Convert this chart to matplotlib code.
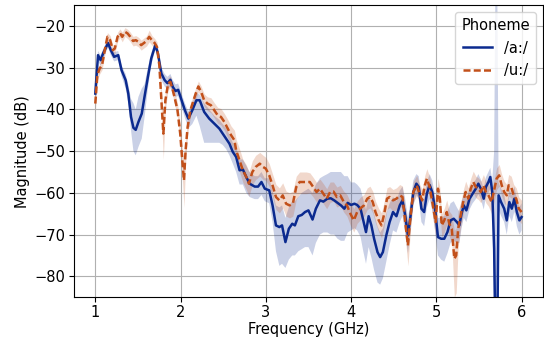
import numpy as np
import matplotlib
matplotlib.use("Agg")
import matplotlib.pyplot as plt

# /a:/ - frequency (GHz), mean magnitude (dB), band low / high
freq_a = [1.000, 1.032, 1.063, 1.091, 1.119, 1.150, 1.182, 1.221, 1.269, 1.308,
          1.356, 1.387, 1.419, 1.447, 1.474, 1.506, 1.545, 1.577, 1.617, 1.656,
          1.704, 1.735, 1.775, 1.814, 1.846, 1.881, 1.909, 1.941, 1.972, 2.012,
          2.051, 2.091, 2.138, 2.186, 2.225, 2.277, 2.336, 2.395, 2.455, 2.494,
          2.534, 2.573, 2.613, 2.652, 2.692, 2.731, 2.771, 2.810, 2.870, 2.909,
          2.949, 2.988, 3.040, 3.079, 3.119, 3.159, 3.190, 3.230, 3.270, 3.310,
          3.341, 3.381, 3.421, 3.460, 3.500, 3.548, 3.587, 3.635, 3.675, 3.722,
          3.762, 3.802, 3.841, 3.881, 3.921, 3.960, 4.000, 4.040, 4.071, 4.111,
          4.143, 4.175, 4.206, 4.238, 4.270, 4.310, 4.341, 4.373, 4.413, 4.452,
          4.492, 4.532, 4.571, 4.603, 4.635, 4.667, 4.698, 4.730, 4.766, 4.794,
          4.825, 4.857, 4.889, 4.921, 4.952, 4.984, 5.019, 5.056, 5.093, 5.130,
          5.167, 5.204, 5.241, 5.270, 5.296, 5.322, 5.352, 5.389, 5.426, 5.463,
          5.493, 5.522, 5.556, 5.581, 5.611, 5.633, 5.656, 5.678, 5.693, 5.715,
          5.730, 5.759, 5.796, 5.826, 5.856, 5.885, 5.915, 5.944, 5.974, 6.000]
mag_a = [-36.2, -27.0, -28.2, -26.6, -25.4, -24.1, -25.8, -27.4, -27.0, -30.6,
         -33.0, -36.2, -41.8, -44.4, -44.9, -43.0, -41.0, -37.0, -32.2, -27.8,
         -24.6, -26.6, -31.4, -33.0, -33.7, -32.9, -34.6, -35.6, -35.3, -37.8,
         -40.2, -42.2, -40.2, -37.8, -37.8, -40.6, -42.2, -43.4, -44.6, -45.8,
         -47.0, -48.2, -50.2, -51.4, -54.6, -54.4, -56.2, -57.8, -58.5, -58.5,
         -57.4, -59.0, -59.4, -63.0, -67.8, -68.2, -67.8, -71.8, -68.6, -67.4,
         -67.8, -65.6, -65.3, -64.6, -64.2, -66.4, -63.8, -61.8, -62.1, -61.4,
         -61.3, -61.8, -62.4, -63.0, -63.8, -62.4, -62.9, -62.6, -62.9, -63.8,
         -66.6, -69.4, -65.6, -67.8, -71.0, -74.2, -75.4, -74.2, -70.2, -67.0,
         -64.6, -65.6, -63.0, -61.8, -65.4, -70.2, -65.4, -59.8, -57.8, -58.6,
         -63.8, -64.6, -60.2, -58.1, -59.8, -63.8, -70.6, -71.0, -71.0, -69.4,
         -66.6, -66.2, -67.0, -67.8, -65.0, -63.0, -64.2, -61.4, -60.2, -59.0,
         -57.8, -59.0, -61.4, -58.6, -57.4, -56.2, -59.8, -73.4, -95.0, -95.0,
         -60.6, -62.2, -63.8, -66.6, -62.2, -63.8, -61.4, -64.6, -66.6, -65.8]
low_a = [-37.5, -28.5, -29.5, -27.8, -26.5, -25.2, -27.0, -28.5, -28.2, -32.0,
         -35.0, -38.5, -45.0, -50.0, -51.0, -49.0, -47.0, -42.0, -35.0, -29.5,
         -25.6, -27.8, -33.0, -34.5, -35.2, -34.5, -36.0, -37.0, -36.8, -39.5,
         -42.0, -44.5, -43.5, -41.5, -44.0, -48.0, -48.0, -48.0, -48.0, -48.5,
         -49.5, -51.0, -53.0, -55.0, -58.0, -58.0, -60.0, -61.0, -61.5, -61.5,
         -60.5, -62.0, -62.5, -67.0, -74.0, -77.5, -77.0, -78.0, -76.0, -75.0,
         -75.0, -74.0, -73.5, -73.0, -73.0, -75.0, -72.0, -70.0, -69.5, -69.5,
         -70.0, -70.0, -71.0, -71.5, -71.5, -69.5, -69.0, -68.5, -69.0, -70.5,
         -74.0, -77.0, -73.0, -75.5, -78.5, -81.5, -82.0, -80.5, -76.5, -72.5,
         -69.0, -69.5, -67.0, -65.5, -69.5, -74.5, -69.0, -63.0, -60.5, -61.5,
         -67.0, -68.0, -63.5, -61.5, -64.0, -69.0, -75.0, -76.0, -76.5, -74.5,
         -72.0, -71.5, -72.0, -72.0, -68.5, -66.0, -67.0, -64.0, -62.5, -61.5,
         -60.3, -61.5, -64.0, -61.0, -60.0, -59.0, -62.5, -90.0, -120.0, -120.0,
         -64.0, -65.5, -67.0, -70.0, -65.5, -67.0, -64.5, -68.0, -70.0, -69.0]
high_a = [-35.0, -26.0, -27.0, -25.6, -24.4, -23.2, -24.8, -26.3, -26.0, -29.5,
          -31.5, -34.0, -37.5, -38.5, -40.0, -37.0, -35.0, -34.0, -30.0, -26.5,
          -23.6, -25.4, -30.0, -31.5, -32.2, -31.5, -33.0, -34.0, -33.8, -36.2,
          -38.5, -40.5, -38.5, -36.0, -36.5, -38.5, -40.0, -41.5, -42.5, -43.5,
          -44.5, -46.0, -48.0, -49.0, -52.0, -52.0, -53.5, -55.0, -56.0, -56.0,
          -55.0, -56.5, -56.5, -59.5, -63.0, -63.5, -63.0, -66.0, -63.5, -62.0,
          -62.0, -61.0, -60.0, -59.5, -59.0, -60.0, -58.0, -56.5, -56.0, -55.5,
          -55.0, -55.0, -55.0, -55.0, -56.0, -56.0, -57.5, -57.5, -58.0, -59.0,
          -61.5, -64.0, -61.0, -62.5, -65.0, -68.0, -69.5, -68.5, -65.0, -62.5,
          -61.0, -62.0, -59.5, -58.5, -61.5, -66.0, -62.0, -57.0, -55.5, -56.0,
          -61.0, -61.5, -57.5, -55.5, -57.0, -60.5, -66.0, -66.0, -65.5, -64.5,
          -62.5, -62.0, -63.5, -64.5, -62.0, -60.5, -61.5, -59.0, -58.0, -56.8,
          -55.5, -56.8, -59.0, -56.3, -55.0, -54.0, -57.0, -50.0, -10.0, -10.0,
          -57.5, -59.0, -60.5, -63.5, -59.0, -60.5, -58.5, -61.5, -63.5, -62.5]

# /u:/
freq_u = [1.000, 1.024, 1.051, 1.079, 1.111, 1.142, 1.174, 1.206, 1.229, 1.261,
          1.289, 1.316, 1.348, 1.379, 1.411, 1.443, 1.474, 1.506, 1.538, 1.569,
          1.601, 1.632, 1.664, 1.696, 1.723, 1.751, 1.775, 1.798, 1.822, 1.854,
          1.881, 1.909, 1.933, 1.964, 1.996, 2.020, 2.040, 2.059, 2.083, 2.115,
          2.146, 2.178, 2.209, 2.241, 2.277, 2.316, 2.356, 2.395, 2.435, 2.474,
          2.514, 2.553, 2.593, 2.632, 2.652, 2.692, 2.731, 2.771, 2.802, 2.842,
          2.881, 2.929, 2.968, 3.000, 3.040, 3.079, 3.119, 3.159, 3.198, 3.238,
          3.278, 3.317, 3.357, 3.397, 3.437, 3.476, 3.516, 3.556, 3.595, 3.635,
          3.675, 3.714, 3.754, 3.794, 3.833, 3.873, 3.913, 3.952, 3.992, 4.032,
          4.071, 4.111, 4.151, 4.190, 4.222, 4.254, 4.286, 4.325, 4.357, 4.389,
          4.421, 4.452, 4.492, 4.532, 4.571, 4.603, 4.635, 4.667, 4.698, 4.730,
          4.770, 4.802, 4.833, 4.865, 4.889, 4.921, 4.960, 4.992, 5.019, 5.041,
          5.063, 5.093, 5.122, 5.152, 5.181, 5.211, 5.233, 5.256, 5.285, 5.315,
          5.344, 5.374, 5.404, 5.433, 5.463, 5.493, 5.522, 5.552, 5.581, 5.611,
          5.648, 5.678, 5.707, 5.737, 5.767, 5.796, 5.826, 5.848, 5.878, 5.907,
          5.937, 5.967, 6.000]
mag_u = [-38.6, -31.8, -30.2, -29.4, -25.8, -22.6, -23.4, -25.8, -25.4, -22.6,
         -21.7, -22.6, -21.4, -21.8, -22.6, -23.6, -23.4, -23.8, -24.6, -24.1,
         -23.6, -22.6, -23.4, -24.1, -25.0, -29.4, -37.8, -45.8, -37.8, -33.8,
         -33.4, -35.4, -37.4, -40.2, -45.8, -52.2, -57.0, -49.8, -44.2, -40.2,
         -38.2, -36.2, -34.5, -35.8, -37.8, -38.6, -39.0, -40.2, -41.4, -41.8,
         -43.0, -44.6, -46.2, -47.4, -49.8, -52.2, -54.6, -56.2, -57.8, -55.0,
         -53.8, -53.0, -53.8, -54.2, -55.8, -58.2, -61.0, -61.8, -60.6, -62.6,
         -63.0, -62.6, -58.6, -57.4, -57.4, -57.4, -57.4, -58.6, -59.8, -59.0,
         -60.2, -61.4, -59.8, -59.7, -61.0, -60.6, -62.1, -63.0, -65.0, -66.6,
         -64.6, -63.7, -63.0, -61.4, -61.0, -62.2, -64.6, -66.6, -67.8, -65.0,
         -61.4, -61.0, -61.8, -61.4, -60.6, -61.0, -67.0, -72.6, -65.4, -59.8,
         -58.2, -60.2, -61.8, -58.2, -56.6, -58.6, -63.0, -67.0, -59.0, -61.4,
         -67.8, -66.6, -64.6, -67.4, -68.6, -75.8, -75.0, -68.6, -65.4, -62.2,
         -59.8, -61.4, -59.0, -57.4, -58.6, -59.0, -59.8, -58.2, -59.8, -60.6,
         -62.2, -59.4, -56.6, -55.8, -58.2, -59.8, -60.6, -58.2, -58.6, -60.6,
         -61.4, -63.8, -64.6]
low_u = [-40.5, -33.0, -31.5, -30.5, -27.0, -23.8, -24.6, -27.0, -26.6, -23.8,
         -22.8, -23.8, -22.5, -23.0, -23.8, -24.8, -24.6, -25.0, -25.8, -25.3,
         -24.8, -23.8, -24.6, -25.3, -26.3, -31.0, -41.0, -52.0, -40.0, -35.3,
         -34.8, -36.8, -39.0, -42.0, -48.0, -56.0, -63.5, -53.0, -46.0, -41.8,
         -39.6, -37.6, -35.8, -37.2, -39.3, -40.3, -40.8, -42.0, -43.3, -43.8,
         -45.0, -46.8, -48.5, -50.0, -52.5, -55.0, -57.5, -59.2, -60.8, -58.0,
         -56.8, -56.0, -56.8, -57.0, -58.5, -61.0, -64.0, -64.8, -63.6, -65.6,
         -66.0, -65.6, -61.6, -60.2, -60.2, -60.2, -60.0, -61.0, -62.2, -61.5,
         -62.6, -63.8, -62.3, -62.0, -63.4, -63.0, -64.6, -65.6, -67.8, -69.4,
         -67.3, -66.4, -65.6, -64.0, -63.6, -64.8, -67.2, -69.4, -70.8, -68.0,
         -64.0, -63.5, -64.4, -64.0, -63.2, -63.6, -70.5, -77.5, -68.5, -62.3,
         -60.6, -62.6, -64.4, -60.6, -59.0, -61.0, -66.0, -70.5, -61.5, -64.0,
         -70.5, -69.5, -67.5, -70.4, -72.0, -85.0, -84.0, -73.0, -68.4, -65.0,
         -62.4, -64.0, -61.5, -60.0, -61.2, -61.6, -62.4, -60.8, -62.4, -63.2,
         -65.0, -62.0, -59.2, -58.4, -60.8, -62.4, -63.2, -60.8, -61.2, -63.2,
         -64.0, -66.6, -67.4]
high_u = [-37.0, -30.5, -29.0, -28.3, -24.8, -21.6, -22.3, -24.6, -24.3, -21.5,
          -20.7, -21.5, -20.4, -20.8, -21.5, -22.5, -22.3, -22.7, -23.4, -22.9,
          -22.4, -21.0, -22.3, -23.0, -23.8, -27.8, -35.0, -42.0, -35.5, -32.4,
          -32.0, -34.0, -35.8, -38.5, -43.5, -49.0, -52.0, -46.5, -42.5, -38.7,
          -36.8, -34.8, -33.2, -34.4, -36.3, -37.0, -37.2, -38.4, -39.5, -39.8,
          -41.0, -42.4, -44.0, -45.0, -47.2, -49.5, -52.0, -53.3, -55.0, -52.3,
          -51.0, -50.3, -51.0, -51.5, -53.0, -55.5, -58.0, -58.8, -57.6, -59.6,
          -60.0, -59.6, -56.0, -55.0, -55.0, -55.0, -55.2, -56.3, -57.5, -56.7,
          -57.8, -59.0, -57.4, -57.4, -58.6, -58.2, -59.6, -60.4, -62.2, -63.8,
          -62.0, -61.0, -60.4, -58.8, -58.4, -59.6, -62.0, -63.8, -64.8, -62.0,
          -58.8, -58.5, -59.2, -58.8, -58.0, -58.4, -63.5, -67.5, -62.3, -57.3,
          -55.8, -57.8, -59.2, -55.8, -54.2, -56.2, -60.0, -63.5, -56.5, -58.8,
          -65.0, -63.7, -61.7, -64.4, -65.2, -69.0, -68.5, -64.2, -62.4, -59.4,
          -57.2, -58.8, -56.5, -54.8, -56.0, -56.4, -57.2, -55.6, -57.2, -58.0,
          -59.4, -56.8, -54.0, -53.2, -55.6, -57.2, -58.0, -55.6, -56.0, -58.0,
          -58.8, -61.0, -61.8]

BLUE = "#0b2a8f"
ORANGE = "#c2501a"

plt.rcParams["font.family"] = "DejaVu Sans"
plt.rcParams["font.size"] = 10.5

fig = plt.figure(figsize=(5.44, 3.4), dpi=100)
ax = fig.add_axes([0.136, 0.126, 0.862, 0.859])

ax.fill_between(freq_a, low_a, high_a, color=BLUE, alpha=0.22, lw=0)
ax.fill_between(freq_u, low_u, high_u, color=ORANGE, alpha=0.22, lw=0)
ax.plot(freq_a, mag_a, color=BLUE, lw=1.8, label="/a:/")
ax.plot(freq_u, mag_u, color=ORANGE, lw=1.8, ls=(0, (2.8, 1.3)), label="/u:/")

ax.set_xlim(0.75, 6.25)
ax.set_ylim(-85, -15)
ax.set_xticks([1, 2, 3, 4, 5, 6])
ax.set_yticks(np.arange(-80, -15, 10))
ax.tick_params(pad=2.5)
ax.grid(True, color="#b0b0b0", lw=0.8)
ax.set_axisbelow(True)
ax.set_xlabel("Frequency (GHz)", labelpad=1)
ax.set_ylabel("Magnitude (dB)", labelpad=3)
ax.legend(title="Phoneme", loc="upper right")

fig.savefig("out.png", dpi=100)
